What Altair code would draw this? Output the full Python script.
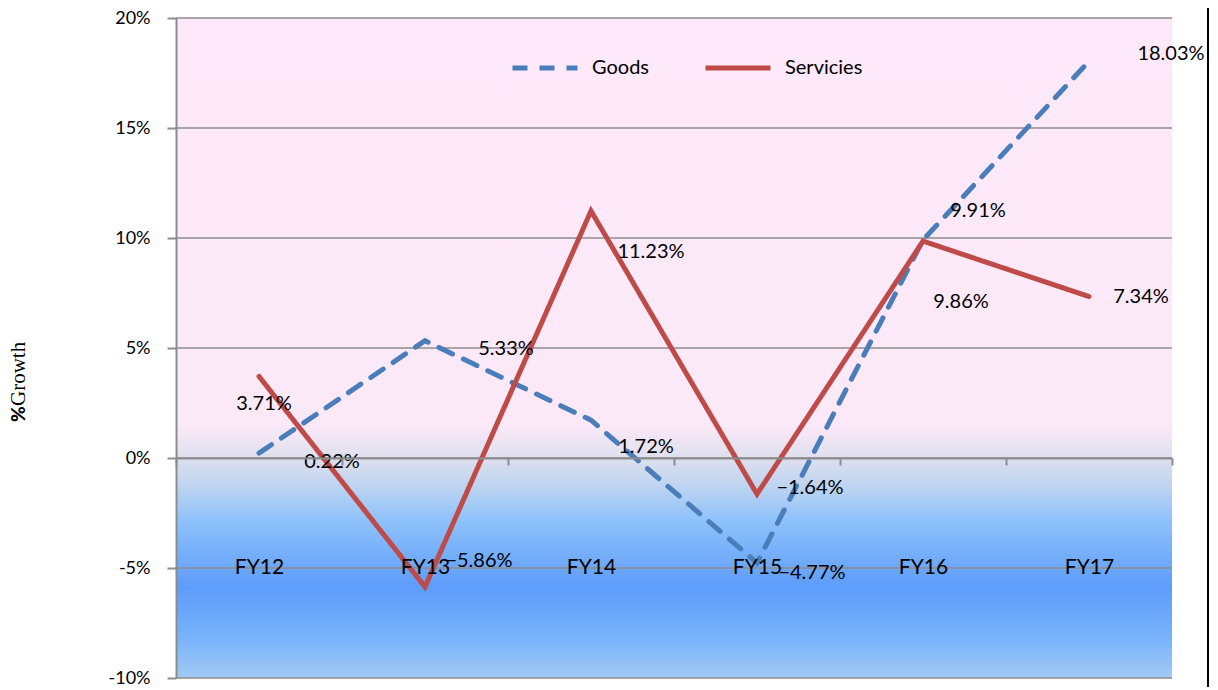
import altair as alt
import pandas as pd

years = ["FY12", "FY13", "FY14", "FY15", "FY16", "FY17"]
goods = [0.22, 5.33, 1.72, -4.77, 9.91, 18.03]
services = [3.71, -5.86, 11.23, -1.64, 9.86, 7.34]
series_names = ["Goods", "Servicies"]
y_ticks = [-10, -5, 0, 5, 10, 15, 20]
y_title_parts = ["%", "Growth"]

# annotation placement of each value label (pixel nudges from its point)
goods_nudge_x = [73, 81, 55, 55, 55, 82]
goods_nudge_y = [9, 8, 27, 10, -29, -7]
services_nudge_x = [5, 54, 60, 53, 38, 52]
services_nudge_y = [28, -26, 41, -6, 61, 0]

rows = []
for i, fy in enumerate(years):
    rows.append({"fy": fy, "series": "Goods", "value": goods[i],
                 "ndx": goods_nudge_x[i], "ndy": goods_nudge_y[i]})
    rows.append({"fy": fy, "series": "Servicies", "value": services[i],
                 "ndx": services_nudge_x[i], "ndy": services_nudge_y[i]})
df = pd.DataFrame(rows)
ticks_df = pd.DataFrame({"v": y_ticks})
bg_df = pd.DataFrame({"top": [max(y_ticks)], "bottom": [min(y_ticks)]})

FONT = "Lato"
GRID = "#8c8c8c"

yscale = alt.Scale(domain=[min(y_ticks), max(y_ticks)], nice=False, zero=False)
xscale = alt.Scale(type="band", domain=years, paddingInner=0, paddingOuter=0)

gradient = alt.LinearGradient(
    gradient="linear", x1=0, y1=0, x2=0, y2=1,
    stops=[
        alt.GradientStop(color="#FDE9F9", offset=0),
        alt.GradientStop(color="#FCE9F8", offset=0.617),
        alt.GradientStop(color="#DEDFEE", offset=0.667),
        alt.GradientStop(color="#BFD4F0", offset=0.708),
        alt.GradientStop(color="#8EC2FB", offset=0.761),
        alt.GradientStop(color="#5D9CFA", offset=0.862),
        alt.GradientStop(color="#79B4FA", offset=0.942),
        alt.GradientStop(color="#A2C9F4", offset=1.0),
    ],
)

bg = alt.Chart(bg_df).mark_rect(fill=gradient).encode(
    y=alt.Y("top:Q", scale=yscale,
            axis=alt.Axis(values=y_ticks, labelExpr="datum.value + '%'", grid=False,
                          domainColor=GRID, domainWidth=2, tickColor=GRID, tickWidth=2,
                          tickSize=9, labelPadding=17, labelFont=FONT, labelFontSize=18,
                          labelColor="black", title=None, zindex=1)),
    y2="bottom:Q",
)

grid = alt.Chart(ticks_df).mark_rule(color=GRID, strokeWidth=1.6).encode(
    y=alt.Y("v:Q", scale=yscale)
)

lines = alt.Chart(df).mark_line(strokeWidth=5, strokeCap="round").encode(
    x=alt.X("fy:N", scale=xscale, bandPosition=0.5, sort=years,
            axis=alt.Axis(orient="bottom", offset=-220, tickBand="extent", tickSize=7,
                          tickColor=GRID, tickWidth=2, domainColor=GRID, domainWidth=2,
                          labelPadding=102, labelBaseline="middle", labelFont=FONT,
                          labelFontSize=21, labelColor="black", labelAngle=0,
                          title=None, zindex=1)),
    y=alt.Y("value:Q", scale=yscale),
    color=alt.Color("series:N", scale=alt.Scale(domain=series_names, range=["#4A7EBB", "#BE4B48"]),
                    legend=alt.Legend(title=None)),
    strokeDash=alt.StrokeDash("series:N", scale=alt.Scale(domain=series_names, range=[[15, 12], [1, 0]]),
                              legend=alt.Legend(title=None)),
)

labels = alt.Chart(df).transform_calculate(
    label="format(datum.value, '.2f') + '%'"
).mark_text(font=FONT, fontSize=20, color="black", align="center", baseline="middle",
            dx=alt.ExprRef(expr="datum.ndx"), dy=alt.ExprRef(expr="datum.ndy")).encode(
    x=alt.X("fy:N", scale=xscale, bandPosition=0.5, sort=years),
    y=alt.Y("value:Q", scale=yscale),
    text="label:N",
)

# rotated y-axis title: bold sans "%" followed by serif "Growth"
title_pct = alt.Chart(bg_df).mark_text(
    text=y_title_parts[0], font=FONT, fontWeight=900, fontSize=19, color="black",
    angle=270, align="left", baseline="middle").encode(
    x=alt.value(-157), y=alt.value(404))
title_word = alt.Chart(bg_df).mark_text(
    text=y_title_parts[1], font="Liberation Serif", fontSize=21, color="black",
    angle=270, align="left", baseline="middle").encode(
    x=alt.value(-157), y=alt.value(388))

border = alt.Chart(bg_df).mark_rule(color="black", strokeWidth=2).encode(
    x=alt.value(1032), y=alt.value(-12), y2=alt.value(690)
)

chart = alt.layer(bg, grid, lines, labels, title_pct, title_word, border).properties(
    width=996, height=660, autosize="none",
    padding={"left": 168, "top": 10, "right": 38, "bottom": 9},
).configure_view(stroke=None).configure_legend(
    orient="none", legendX=334, legendY=15, direction="horizontal",
    symbolType="stroke", symbolSize=4225, symbolStrokeWidth=5,
    labelFont=FONT, labelFontSize=20, labelColor="black", labelOffset=12,
    columnPadding=45, padding=0,
)

chart.save("out.html", embed_options={"renderer": "svg", "actions": False})
